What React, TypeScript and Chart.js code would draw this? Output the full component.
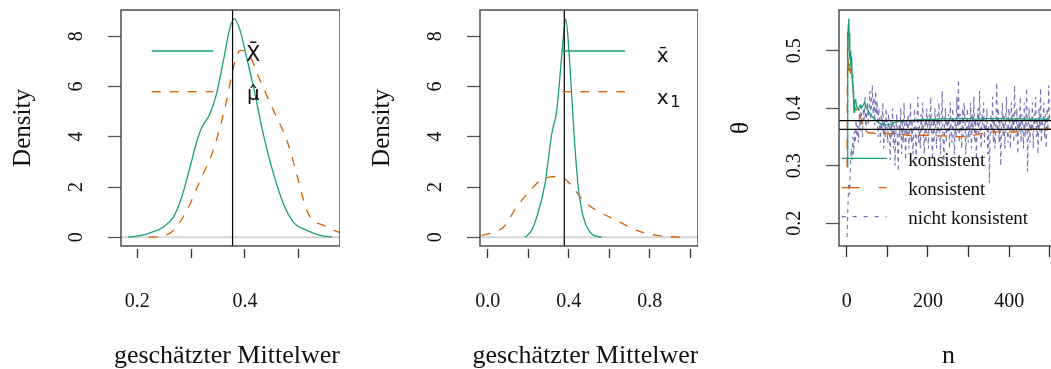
import React, { useEffect, useRef } from 'react';
import { Chart, registerables } from 'chart.js';

Chart.register(...registerables);

const GREEN = '#1B9E77';
const ORANGE = '#D95F02';
const PURPLE = '#7570B3';
const SERIF = "'Liberation Serif', 'Times New Roman', serif";
const SANS = "'DejaVu Sans', sans-serif";

// ---------- Panel 1: density of X-bar vs mu-hat ----------
const p1XbarX = [0.183, 0.205, 0.224, 0.248, 0.267, 0.2825, 0.298, 0.311, 0.32, 0.335, 0.347, 0.36, 0.3725, 0.3805, 0.391, 0.403, 0.416, 0.434, 0.453, 0.4715, 0.49, 0.515, 0.54, 0.562];
const p1XbarY = [0, 0.06, 0.175, 0.4, 0.8, 1.6, 2.8, 3.85, 4.38, 4.92, 5.7, 7.04, 8.37, 8.7, 8.24, 7.17, 5.98, 4.12, 2.53, 1.33, 0.6, 0.27, 0.07, 0];
const p1MuX = [0.221, 0.243, 0.267, 0.292, 0.3166, 0.341, 0.366, 0.3786, 0.391, 0.4065, 0.428, 0.453, 0.478, 0.496, 0.509, 0.521, 0.546, 0.574, 0.58];
const p1MuY = [0, 0.03, 0.27, 1.06, 2.26, 3.46, 5.45, 6.78, 7.44, 7.31, 6.25, 5.05, 3.85, 2.53, 1.46, 0.8, 0.47, 0.2, 0.16];
const p1Truth = 0.377;
const p1TicksX = [0.2, 0.3, 0.4, 0.5];
const p1LabelsX = ['0.2', '', '0.4', ''];

// ---------- Panel 2: density of x-bar vs x1 ----------
const p2XbarX = [0.184, 0.215, 0.242, 0.283, 0.316, 0.341, 0.3605, 0.375, 0.385, 0.395, 0.406, 0.426, 0.447, 0.472, 0.505, 0.535, 0.563];
const p2XbarY = [0, 0.25, 0.8, 2.13, 4.12, 5.05, 6.78, 8.1, 8.7, 8.1, 6.78, 4.12, 2.0, 0.8, 0.2, 0.04, 0];
const p2X1X = [-0.03, 0.02, 0.077, 0.143, 0.209, 0.275, 0.357, 0.406, 0.472, 0.538, 0.637, 0.736, 0.835, 0.9, 0.974];
const p2X1Y = [0.07, 0.18, 0.4, 1.2, 1.86, 2.33, 2.42, 2.13, 1.46, 1.06, 0.67, 0.27, 0.07, 0.02, 0];
const p2Truth = 0.378;
const p2TicksX = [0, 0.2, 0.4, 0.6, 0.8, 1.0];
const p2LabelsX = ['0.0', '', '0.4', '', '0.8', ''];

const densTicksY = [0, 2, 4, 6, 8];
const densLabelsY = ['0', '2', '4', '6', '8'];

// ---------- Panel 3: running estimators over n ----------
const p3N = [1, 2, 3, 4, 5, 6, 7, 8, 9, 10, 11, 12, 13, 14, 15, 16, 17, 18, 19, 20, 22, 24, 26, 28, 30, 33, 36, 40, 44, 48, 52, 56, 60, 65, 70, 75, 80, 85, 90, 95, 100, 110, 120, 130, 140, 150, 160, 170, 180, 200, 220, 240, 260, 280, 300, 320, 340, 360, 380, 400, 420, 440, 460, 480, 500];
const p3Green = [
  0.298, 0.45, 0.52, 0.545, 0.556, 0.53, 0.5, 0.485, 0.5, 0.475,
  0.47, 0.49, 0.46, 0.44, 0.45, 0.43, 0.41, 0.393, 0.4, 0.413,
  0.415, 0.405, 0.4, 0.397, 0.402,
  0.405, 0.4,
  0.405, 0.41, 0.403, 0.397, 0.392, 0.388,
  0.384, 0.38, 0.377, 0.374, 0.373, 0.372, 0.371, 0.371,
  0.373, 0.376, 0.377, 0.378, 0.378, 0.379, 0.379, 0.38,
  0.38, 0.381, 0.382, 0.381, 0.382, 0.382, 0.381, 0.382, 0.382, 0.382, 0.381, 0.382, 0.381, 0.381, 0.381, 0.381,
];
const p3Orange = [
  0.298, 0.533, 0.5, 0.47, 0.46, 0.478, 0.465, 0.47, 0.46, 0.475,
  0.46, 0.47, 0.452, 0.46, 0.443, 0.43, 0.42, 0.41, 0.403, 0.4,
  0.4, 0.395, 0.398, 0.393, 0.39,
  0.385, 0.38,
  0.37, 0.362, 0.36, 0.358, 0.357, 0.357,
  0.357, 0.356, 0.356, 0.356, 0.356, 0.356, 0.357, 0.356,
  0.356, 0.356, 0.355, 0.354, 0.353, 0.353, 0.353, 0.353,
  0.353, 0.352, 0.352, 0.351, 0.3505, 0.351, 0.354, 0.357, 0.359, 0.359, 0.359, 0.359, 0.36, 0.364, 0.365, 0.365,
];
// nicht konsistent: read at n = 1, 3, 5, ..., 499
const p3Purple = [
  0.176, 0.23, 0.27, 0.25, 0.3, 0.33, 0.31, 0.35, 0.32, 0.36, 0.34, 0.38, 0.35, 0.37, 0.34, 0.39, 0.36, 0.41, 0.37, 0.35, 0.4, 0.38, 0.42, 0.36, 0.39,
  0.41, 0.37, 0.4, 0.43, 0.38, 0.41, 0.44, 0.39, 0.42, 0.37, 0.43, 0.39, 0.41, 0.35, 0.4, 0.37, 0.34, 0.39, 0.36, 0.41, 0.33, 0.38, 0.35, 0.4, 0.37,
  0.34, 0.39, 0.36, 0.31, 0.38, 0.35, 0.4, 0.33, 0.37, 0.3, 0.36, 0.39, 0.34, 0.29, 0.37, 0.35, 0.4, 0.32, 0.38, 0.34, 0.41, 0.36, 0.31, 0.38, 0.35,
  0.39, 0.33, 0.37, 0.41, 0.34, 0.38, 0.32, 0.36, 0.4, 0.35, 0.31, 0.38, 0.42, 0.34, 0.37, 0.33, 0.39, 0.36, 0.41, 0.35, 0.32, 0.38, 0.34, 0.4, 0.37,
  0.33, 0.39, 0.36, 0.42, 0.35, 0.31, 0.38, 0.34, 0.4, 0.37, 0.33, 0.39, 0.35, 0.41, 0.36, 0.32, 0.38, 0.43, 0.35, 0.3, 0.37, 0.4, 0.34, 0.38, 0.36,
  0.39, 0.33, 0.41, 0.36, 0.34, 0.4, 0.37, 0.32, 0.38, 0.35, 0.42, 0.36, 0.45, 0.34, 0.39, 0.37, 0.33, 0.4, 0.35, 0.41, 0.38, 0.32, 0.37, 0.4, 0.34,
  0.38, 0.35, 0.41, 0.33, 0.39, 0.36, 0.42, 0.34, 0.38, 0.31, 0.37, 0.4, 0.35, 0.43, 0.36, 0.33, 0.39, 0.37, 0.41, 0.34, 0.38, 0.36, 0.4, 0.32, 0.37,
  0.27, 0.35, 0.39, 0.36, 0.42, 0.34, 0.38, 0.33, 0.37, 0.445, 0.36, 0.4, 0.34, 0.38, 0.3, 0.37, 0.41, 0.35, 0.39, 0.33, 0.38, 0.42, 0.36, 0.34, 0.4,
  0.37, 0.33, 0.41, 0.36, 0.39, 0.34, 0.44, 0.37, 0.35, 0.4, 0.32, 0.38, 0.36, 0.42, 0.34, 0.39, 0.37, 0.33, 0.41, 0.35, 0.38, 0.435, 0.29, 0.36, 0.4,
  0.34, 0.38, 0.36, 0.41, 0.33, 0.39, 0.37, 0.42, 0.35, 0.38, 0.32, 0.4, 0.36, 0.435, 0.34, 0.38, 0.37, 0.41, 0.35, 0.39, 0.33, 0.4, 0.36, 0.44, 0.38,
];
const p3RefLines = [0.3784, 0.3633];
const p3TicksX = [0, 100, 200, 300, 400, 500];
const p3LabelsX = ['0', '', '200', '', '400', ''];
const p3TicksY = [0.2, 0.3, 0.4, 0.5];
const p3LabelsY = ['0.2', '0.3', '0.4', '0.5'];

const pts = (xs: number[], ys: number[]) => xs.map((x, i) => ({ x, y: ys[i] }));

type LegendItem = {
  x1: number; x2: number; y: number; color: string; dash: number[];
  text: string; tx: number; ty: number; font: string;
  sub?: { text: string; dx: number; dy: number; font: string };
};

type Panel = {
  left: number; width: number;
  xMin: number; xMax: number; yMin: number; yMax: number;
  xTicks: number[]; xLabels: string[]; yTicks: number[]; yLabels: string[];
  yTitle: string; xTitle: string; yLabelPad: number;
  xTickDash: number[]; xTickLen: number; xLabelPad: number;
  datasets: any[]; legend: LegendItem[];
};

const vline = (x: number, y0: number, y1: number) => ({
  data: [{ x, y: y0 }, { x, y: y1 }], borderColor: '#000', borderWidth: 1.2, pointRadius: 0,
});
const hline = (y: number, x0: number, x1: number, color: string, w: number) => ({
  data: [{ x: x0, y }, { x: x1, y }], borderColor: color, borderWidth: w, pointRadius: 0,
});
const curve = (data: any[], color: string, dash: number[]) => ({
  data, borderColor: color, borderWidth: 1.3, borderDash: dash, pointRadius: 0,
  cubicInterpolationMode: 'monotone',
});

const panels: Panel[] = [
  {
    left: 0, width: 340,
    xMin: 0.1697, xMax: 0.5766, yMin: -0.35, yMax: 9.05,
    xTicks: p1TicksX, xLabels: p1LabelsX, yTicks: densTicksY, yLabels: densLabelsY,
    yTitle: 'Density', xTitle: 'geschätzter Mittelwert', yLabelPad: 26,
    xTickDash: [9, 3], xTickLen: 12, xLabelPad: 31.7,
    datasets: [
      vline(p1Truth, -1, 10),
      curve(pts(p1XbarX, p1XbarY), GREEN, []),
      curve(pts(p1MuX, p1MuY), ORANGE, [9, 9]),
      hline(0, 0, 1, '#d4d4d4', 2),
    ],
    legend: [
      { x1: 151.7, x2: 213.3, y: 51, color: GREEN, dash: [], text: 'X\u0304', tx: 246, ty: 61, font: `21px ${SANS}` },
      { x1: 151.7, x2: 213.3, y: 91.7, color: ORANGE, dash: [9, 9], text: '\u03bc\u0302', tx: 247, ty: 99.5, font: `20px ${SANS}` },
    ],
  },
  {
    left: 359, width: 339,
    xMin: -0.038, xMax: 1.038, yMin: -0.35, yMax: 9.05,
    xTicks: p2TicksX, xLabels: p2LabelsX, yTicks: densTicksY, yLabels: densLabelsY,
    yTitle: 'Density', xTitle: 'geschätzter Mittelwert', yLabelPad: 26,
    xTickDash: [9, 3], xTickLen: 12, xLabelPad: 31.7,
    datasets: [
      vline(p2Truth, -1, 10),
      curve(pts(p2XbarX, p2XbarY), GREEN, []),
      curve(pts(p2X1X, p2X1Y), ORANGE, [9, 9]),
      hline(0, -1, 2, '#d4d4d4', 2),
    ],
    legend: [
      { x1: 562.3, x2: 625, y: 51, color: GREEN, dash: [], text: 'x\u0304', tx: 656.7, ty: 61.7, font: `20px ${SANS}` },
      { x1: 562.3, x2: 625, y: 91.7, color: ORANGE, dash: [9, 9], text: 'x', tx: 656.7, ty: 104, font: `20px ${SANS}`,
        sub: { text: '1', dx: 13.5, dy: 3, font: `16px ${SANS}` } },
    ],
  },
  {
    left: 718, width: 340,
    xMin: -19, xMax: 520, yMin: 0.1605, yMax: 0.5708,
    xTicks: p3TicksX, xLabels: p3LabelsX, yTicks: p3TicksY, yLabels: p3LabelsY,
    yTitle: '\u03b8', xTitle: 'n', yLabelPad: 19,
    xTickDash: [], xTickLen: 11, xLabelPad: 32.7,
    datasets: [
      hline(p3RefLines[0], -50, 600, '#000', 1.3),
      hline(p3RefLines[1], -50, 600, '#000', 1.3),
      { data: pts(p3N, p3Green), borderColor: GREEN, borderWidth: 1.3, pointRadius: 0 },
      { data: pts(p3N, p3Orange), borderColor: ORANGE, borderWidth: 1.3, borderDash: [10, 8], pointRadius: 0 },
      { data: p3Purple.map((y, i) => ({ x: 2 * i + 1, y })), borderColor: PURPLE, borderWidth: 1.1, borderDash: [4, 4], pointRadius: 0 },
    ],
    legend: [
      { x1: 841.7, x2: 886.7, y: 158.3, color: GREEN, dash: [], text: 'konsistent', tx: 908.3, ty: 166.3, font: `19px ${SERIF}` },
      { x1: 841.7, x2: 886.7, y: 187.7, color: ORANGE, dash: [18, 19], text: 'konsistent', tx: 908.3, ty: 195, font: `19px ${SERIF}` },
      { x1: 841.7, x2: 886.7, y: 216.7, color: PURPLE, dash: [4, 7], text: 'nicht konsistent', tx: 908.3, ty: 223.5, font: `19px ${SERIF}` },
    ],
  },
];

const framePlugin = (p: Panel) => ({
  id: 'frame',
  afterDraw(chart: any) {
    const { ctx, chartArea: a } = chart;
    ctx.save();
    ctx.setLineDash([]);
    ctx.strokeStyle = '#333';
    ctx.lineWidth = 1.3;
    ctx.strokeRect(a.left, a.top, a.right - a.left, a.bottom - a.top);
    ctx.translate(-p.left, 0);
    for (const it of p.legend) {
      ctx.beginPath();
      ctx.strokeStyle = it.color;
      ctx.lineWidth = 1.3;
      ctx.setLineDash(it.dash);
      ctx.moveTo(it.x1, it.y);
      ctx.lineTo(it.x2, it.y);
      ctx.stroke();
      ctx.setLineDash([]);
      ctx.fillStyle = '#111';
      ctx.font = it.font;
      ctx.textAlign = 'left';
      ctx.textBaseline = 'alphabetic';
      ctx.fillText(it.text, it.tx, it.ty);
      if (it.sub) {
        ctx.font = it.sub.font;
        ctx.fillText(it.sub.text, it.tx + it.sub.dx, it.ty + it.sub.dy);
      }
    }
    ctx.translate(p.left, 0);
    ctx.fillStyle = '#111';
    ctx.font = `26px ${SERIF}`;
    ctx.textAlign = 'center';
    ctx.textBaseline = 'alphabetic';
    ctx.fillText(p.xTitle, (a.left + a.right) / 2, 363);
    ctx.restore();
  },
});

function makeConfig(p: Panel): any {
  return {
    type: 'line',
    data: { datasets: p.datasets },
    options: {
      animation: false,
      responsive: false,
      devicePixelRatio: 1,
      events: [],
      layout: { padding: { top: 10, left: 0, right: 0, bottom: 0 }, autoPadding: false },
      plugins: { legend: { display: false }, tooltip: { enabled: false } },
      elements: { point: { radius: 0 }, line: { tension: 0 } },
      scales: {
        x: {
          type: 'linear', min: p.xMin, max: p.xMax,
          afterFit: (s: any) => { s.height = 123; s.paddingLeft = 0; s.paddingRight = 0; },
          afterBuildTicks: (s: any) => { s.ticks = p.xTicks.map((v) => ({ value: v })); },
          grid: {
            drawOnChartArea: false, tickLength: p.xTickLen, tickColor: '#333', tickWidth: 1.3,
            tickBorderDash: p.xTickDash, tickBorderDashOffset: p.xTickDash.length ? p.xTickDash[0] : 0,
          },
          border: { display: false },
          ticks: {
            autoSkip: false, maxRotation: 0, minRotation: 0, padding: p.xLabelPad, color: '#111',
            font: { family: SERIF, size: 20 },
            callback: (_v: any, i: number) => p.xLabels[i],
          },
        },
        y: {
          type: 'linear', min: p.yMin, max: p.yMax,
          afterFit: (s: any) => { s.width = 121; s.paddingTop = 0; s.paddingBottom = 0; },
          afterBuildTicks: (s: any) => { s.ticks = p.yTicks.map((v) => ({ value: v })); },
          grid: { drawOnChartArea: false, tickLength: 13, tickColor: '#555', tickWidth: 1.3 },
          border: { display: false },
          ticks: {
            autoSkip: false, minRotation: 90, maxRotation: 90, crossAlign: 'center',
            padding: p.yLabelPad, color: '#111', font: { family: SERIF, size: 20 },
            callback: (_v: any, i: number) => p.yLabels[i],
          },
          title: {
            display: true, text: p.yTitle, color: '#111',
            font: { family: SERIF, size: 25 }, padding: { top: 8, bottom: 0 },
          },
        },
      },
    },
    plugins: [framePlugin(p)],
  };
}

function PanelChart({ p }: { p: Panel }) {
  const ref = useRef<HTMLCanvasElement>(null);
  useEffect(() => {
    const chart = new Chart(ref.current as HTMLCanvasElement, makeConfig(p));
    return () => chart.destroy();
  }, [p]);
  return (
    <canvas
      ref={ref}
      width={p.width}
      height={369}
      style={{ position: 'absolute', left: p.left, top: 0, width: p.width, height: 369 }}
    />
  );
}

export default function App() {
  return (
    <div style={{ position: 'absolute', left: 0, top: 0, width: 1051, height: 369, overflow: 'hidden', background: '#fff' }}>
      {panels.map((p, i) => (
        <PanelChart key={i} p={p} />
      ))}
    </div>
  );
}
